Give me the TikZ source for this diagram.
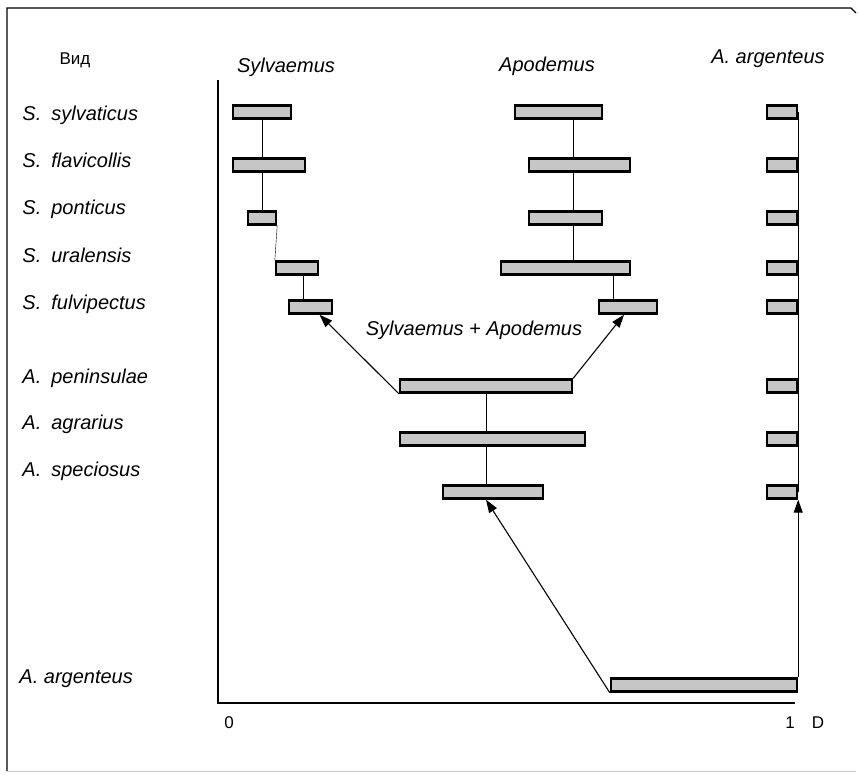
\documentclass[tikz,border=0pt]{standalone}
\usepackage{fontspec}
\setmainfont{Liberation Sans}
\usetikzlibrary{
    arrows.meta,
    backgrounds,
    positioning
}
\tikzset{
    rng/.style={draw, line width=2.4pt, fill=gray!45, inner sep=0pt, minimum height=13pt},
    lbl/.style={anchor=base west, inner sep=0pt, font=\fontsize{20}{24}\selectfont\itshape},
    hdr/.style={anchor=base, inner sep=0pt, font=\fontsize{20}{24}\selectfont\itshape},
    tick/.style={anchor=base, inner sep=0pt, font=\fontsize{17}{20}\selectfont},
    arr/.style={-{Triangle[length=13pt,width=9pt]}, line width=1.1pt}
}

\begin{document}
\begin{tikzpicture}[x=1pt, y=-1pt, line width=0.9pt]
    \useasboundingbox (0,0) rectangle (859,775);
    % frame
    \draw[line width=1.3pt] (7,771) -- (7,8) -- (851,8) -- (856,13);
    \draw[gray!40] (7,771) -- (856,771);

    % species names
    \foreach \name/\txt/\y in {
        ls1/S.\enspace sylvaticus/121, ls2/S.\enspace flavicollis/168,
        ls3/S.\enspace ponticus/215, ls4/S.\enspace uralensis/263,
        ls5/S.\enspace fulvipectus/310, lp1/A.\enspace peninsulae/383,
        lp2/A.\enspace agrarius/429, lp3/A.\enspace speciosus/476}
        \node[lbl] (\name) at (22,\y) {\txt};
    \node[lbl] (lag) at (19,683) {A. argenteus};

    % headers
    \node[tick, font=\fontsize{17}{20}\selectfont] (vid) at (75,65) {Вид};
    \node[hdr] (hs) at (286,73) {Sylvaemus};
    \node[hdr] (ha) at (547,72) {Apodemus};
    \node[hdr] (hg) at (768,64) {A. argenteus};

    % axes
    \coordinate (ytop) at (218,80);
    \coordinate (o) at (218,703);
    \coordinate (xend) at (795,703);
    \draw[line width=1.3pt] (ytop) -- (o) -- (xend);
    \node[tick] (t0) at (229,728) {0};
    \node[tick] (t1) at (790,728) {1};
    \node[tick] (tD) at (818,728) {D};

    % ranges
    \foreach \n/\a/\b/\y in {
        s1/233/291/112, s2/233/305/165, s3/248/276/218, s4/276/318/268, s5/289/332/307,
        a1/515/602/112, a2/529/630/165, a3/529/602/218, a4/501/630/268, a5/599/657/307,
        p1/400/572/386, p2/400/585/439, p3/443/543/492,
        ag/611/797/685}
        \node[rng, minimum width={\b-\a}] (\n) at ({(\a+\b)/2},\y) {};
    \foreach \y [count=\i] in {112,165,218,268,307,386,439,492}
        \node[rng, minimum width=30] (r\i) at (782,\y) {};

    % links between ranges
    \coordinate (ak) at (573,0);
    \begin{scope}[on background layer]
        \draw (s1.south) -- (s3.north);
        \draw (s3.south east) -- (s4.north west);
        \draw ([xshift=-7pt]s5.north) -- ([xshift=-7pt]s5.north |- s4.south);
        \draw (a1.south -| ak) -- (a4.north -| ak);
        \draw ([xshift=15pt]a5.north west) -- ([xshift=15pt]a5.north west |- a4.south);
        \draw (p1.south) -- (p3.north -| p1.south);
        \draw (r1.east) -- (r8.east);
    \end{scope}

    \node[hdr] (sa) at (474,336) {Sylvaemus + Apodemus};

    \draw[arr] (p1.south west) -- ([xshift=9pt]s5.south);
    \draw[arr] (p1.north east) -- ([xshift=-4pt]a5.south);
    \draw[arr] (ag.south west) -- (p3.south -| p1.south);
    \draw[arr] (ag.north east) -- (ag.north east |- r8.south);
\end{tikzpicture}
\end{document}
